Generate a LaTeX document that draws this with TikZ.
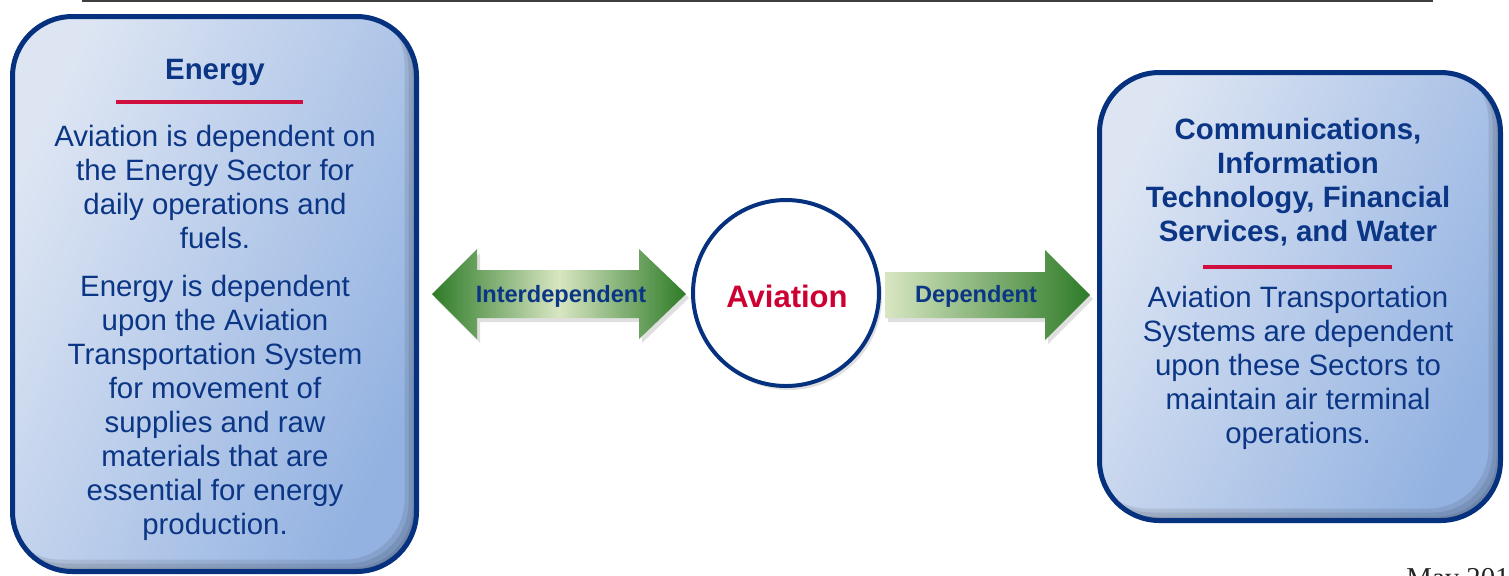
\documentclass[tikz,border=0pt]{standalone}
\usepackage{fontspec}
\setmainfont{Liberation Sans}
\newfontfamily\serifmay{Liberation Serif}
\usetikzlibrary{shadows}
\definecolor{boxblue}{HTML}{06317F}
\definecolor{txtblue}{HTML}{0B3585}
\definecolor{boxlight}{HTML}{DDE5F3}
\definecolor{boxdark}{HTML}{93B2E1}
\definecolor{redline}{HTML}{D10F3F}
\definecolor{avired}{HTML}{CC0033}
\definecolor{gdark}{HTML}{2E7B28}
\definecolor{glight}{HTML}{D8E6C2}
\definecolor{topline}{HTML}{3F3F3F}
\tikzset{
  infobox/.style={draw=boxblue, line width=2.5pt, rounded corners=30pt, inner sep=0pt,
    left color=boxlight, right color=boxdark, shading angle=65,
    path picture={
      \foreach \d in {2,4,6}{
        \fill[black, opacity=0.09, even odd rule, rounded corners=30pt]
          (path picture bounding box.south west) rectangle (path picture bounding box.north east)
          ([shift={(-\d pt,\d pt)}]path picture bounding box.south west) rectangle
          ([shift={(-\d pt,\d pt)}]path picture bounding box.north east);
      }
    }},
  bodytext/.style={text=txtblue, align=center, font=\fontsize{14.7}{17}\selectfont, inner sep=0pt},
  headtext/.style={text=txtblue, align=center, font=\bfseries\fontsize{14.7}{17}\selectfont, inner sep=0pt},
  redrule/.style={draw=redline, line width=2pt},
  arrowlabel/.style={text=txtblue, font=\bfseries\fontsize{11.8}{14}\selectfont, inner sep=0pt},
  greenshadow/.style={drop shadow={shadow xshift=1.5pt, shadow yshift=-2pt, opacity=0.25}},
  hubcircle/.style={circle, draw=boxblue, line width=2pt, fill=white, minimum size=93pt, inner sep=0pt,
    drop shadow={shadow xshift=1.5pt, shadow yshift=-2pt, opacity=0.25}},
}
\begin{document}
\begin{tikzpicture}[x=0.5pt,y=-0.5pt]
\useasboundingbox (0,0) rectangle (1509,575);

% top rule
\coordinate (tl) at (82,1);
\coordinate (tr) at (1433,1);
\draw[topline, line width=1pt] (tl) -- (tr);

% boxes
\node[infobox, minimum width=202pt, minimum height=277.5pt] (energybox) at (214.5,294) {};
\node[infobox, minimum width=200.5pt, minimum height=224pt] (commbox) at (1300,296.5) {};

% left box texts
\node[headtext] (energyhead) at (215,72) {Energy};
\coordinate (er1) at (116,102);
\coordinate (er2) at (303,102);
\draw[redrule] (er1) -- (er2);
\node[bodytext] (energyp1) at (215,187) {Aviation is dependent on\\the Energy Sector for\\daily operations and\\fuels.};
\node[bodytext] (energyp2) at (215,407.5) {Energy is dependent\\upon the Aviation\\Transportation System\\for movement of\\supplies and raw\\materials that are\\essential for energy\\production.};

% right box texts
\node[headtext] (commhead) at (1298,182) {Communications,\\Information\\Technology, Financial\\Services, and Water};
\coordinate (cr1) at (1203,267);
\coordinate (cr2) at (1392,267);
\draw[redrule] (cr1) -- (cr2);
\node[bodytext] (commbody) at (1298,368) {Aviation Transportation\\Systems are dependent\\upon these Sectors to\\maintain air terminal\\operations.};

% double arrow
\path[greenshadow, left color=gdark, right color=gdark, middle color=glight]
  (432,294) -- (477,249) -- (477,270) -- (639,270) -- (639,249) -- (686,294)
  -- (639,339) -- (639,318) -- (477,318) -- (477,339) -- cycle;
\node[arrowlabel] (interlabel) at (561,296) {Interdependent};

% single arrow
\path[greenshadow, left color=glight, right color=gdark]
  (885,272) -- (1045,272) -- (1045,250) -- (1090,295) -- (1045,340) -- (1045,318) -- (885,318) -- cycle;
\node[arrowlabel] (deplabel) at (976,296) {Dependent};

% circle
\node[hubcircle] (aviation) at (786,293) {};
\node[text=avired, font=\bfseries\fontsize{15.5}{18}\selectfont, inner sep=0pt] (aviationlabel) at (787,296.5) {Aviation};

% date (cut off at the lower edge, as in the reference)
\node[anchor=base west, inner sep=0pt, font=\serifmay\fontsize{14.4}{17}\selectfont, text=black!85] (date) at (1406,587) {May 2014};
\end{tikzpicture}
\end{document}
